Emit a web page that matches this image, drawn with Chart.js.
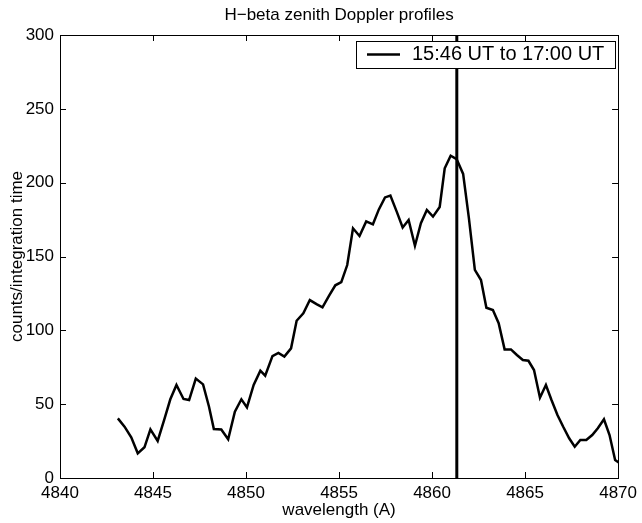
<!DOCTYPE html>
<html>
<head>
<meta charset="utf-8">
<script src="https://cdn.jsdelivr.net/npm/chart.js@4/dist/chart.umd.min.js"></script>
<style>
  html, body { margin: 0; padding: 0; background: #fff; }
  #wrap { width: 642px; height: 523px; }
</style>
</head>
<body>
<div id="wrap"><canvas id="myChart" width="642" height="523"></canvas></div>
<script>
// data
const wavelengths = [
  4843.11, 4843.47, 4843.83, 4844.18, 4844.54, 4844.86, 4845.25, 4845.60, 4845.93, 4846.26,
  4846.64, 4846.94, 4847.30, 4847.69, 4848.01, 4848.27, 4848.67, 4849.04, 4849.40, 4849.75,
  4850.05, 4850.41, 4850.77, 4851.03, 4851.42, 4851.74, 4852.06, 4852.42, 4852.72, 4853.08,
  4853.43, 4853.79, 4854.11, 4854.45, 4854.80, 4855.12, 4855.44, 4855.75, 4856.10, 4856.46,
  4856.82, 4857.14, 4857.47, 4857.76, 4858.10, 4858.42, 4858.74, 4859.08, 4859.40, 4859.72,
  4860.05, 4860.41, 4860.68, 4861.00, 4861.32, 4861.67, 4861.98, 4862.30, 4862.63, 4862.92,
  4863.27, 4863.58, 4863.90, 4864.24, 4864.56, 4864.88, 4865.18, 4865.48, 4865.80, 4866.12,
  4866.42, 4866.74, 4867.05, 4867.37, 4867.67, 4867.97, 4868.29, 4868.61, 4868.91, 4869.24,
  4869.54, 4869.84, 4870.16
];
const counts = [
  40.4, 34.8, 27.5, 16.7, 20.8, 32.9, 25.1, 39.3, 53.3, 63.0,
  53.5, 52.8, 67.3, 63.4, 48.3, 33.2, 32.9, 26.2, 44.9, 53.3,
  47.8, 63.0, 72.7, 69.3, 82.6, 84.7, 82.2, 87.8, 106.5, 111.5,
  120.5, 117.8, 115.6, 123.2, 130.5, 132.7, 144.2, 169.1, 163.9, 173.8,
  171.8, 181.9, 190.0, 191.2, 180.4, 169.7, 174.7, 157.3, 172.5, 181.5,
  177.0, 183.5, 209.7, 218.3, 216.0, 205.9, 176.0, 140.9, 134.1, 115.3,
  113.8, 104.8, 87.1, 87.1, 83.3, 79.9, 79.4, 73.1, 54.4, 63.0,
  52.8, 42.7, 34.7, 26.9, 21.2, 25.7, 25.7, 29.1, 33.7, 39.8,
  29.1, 12.2, 9.5
];
const hBeta = 4861.33;
const xTicks = [4840, 4845, 4850, 4855, 4860, 4865, 4870];
const yTicks = [0, 50, 100, 150, 200, 250, 300];
const seriesLabel = '15:46 UT to 17:00 UT';
const chartTitle = 'H\u2212beta zenith Doppler profiles';

const FONT = "'Liberation Sans', Arial, Helvetica, sans-serif";

// frame, inside tick marks, title and legend (MATLAB look)
const matlabDecor = {
  id: 'matlabDecor',
  afterDatasetsDraw(chart) {
    const ctx = chart.ctx;
    const a = chart.chartArea;
    const xs = chart.scales.x, ys = chart.scales.y;
    ctx.save();
    ctx.strokeStyle = '#000';
    ctx.lineWidth = 1;
    ctx.strokeRect(Math.round(a.left) + 0.5, Math.round(a.top) + 0.5,
      Math.round(a.right - a.left), Math.round(a.bottom - a.top));
    const tl = 6;
    ctx.beginPath();
    xTicks.forEach(v => {
      const px = Math.round(xs.getPixelForValue(v)) + 0.5;
      ctx.moveTo(px, a.bottom); ctx.lineTo(px, a.bottom - tl);
      ctx.moveTo(px, a.top); ctx.lineTo(px, a.top + tl);
    });
    yTicks.forEach(v => {
      const py = Math.round(ys.getPixelForValue(v)) + 0.5;
      ctx.moveTo(a.left, py); ctx.lineTo(a.left + tl, py);
      ctx.moveTo(a.right, py); ctx.lineTo(a.right - tl, py);
    });
    ctx.stroke();

    // legend box
    const lx = 356.5, ly = 41.5, lw = 259, lh = 27;
    ctx.fillStyle = '#fff';
    ctx.fillRect(lx, ly, lw, lh);
    ctx.strokeRect(lx, ly, lw, lh);
    ctx.lineWidth = 2.5;
    ctx.beginPath();
    ctx.moveTo(367, 54.5); ctx.lineTo(400, 54.5);
    ctx.stroke();
    ctx.fillStyle = '#000';
    ctx.font = '20px ' + FONT;
    ctx.textAlign = 'left';
    ctx.textBaseline = 'middle';
    ctx.fillText(chart.data.datasets[0].label, 412, 54.5);

    // title
    ctx.font = '17px ' + FONT;
    ctx.textAlign = 'center';
    ctx.textBaseline = 'middle';
    ctx.fillText(chartTitle, (a.left + a.right) / 2, 15);
    ctx.restore();
  }
};

document.addEventListener('DOMContentLoaded', function () {
  const ctx = document.getElementById('myChart').getContext('2d');
  const points = wavelengths.map((w, i) => ({ x: w, y: counts[i] }));

  new Chart(ctx, {
    type: 'line',
    data: {
      datasets: [
        {
          label: seriesLabel,
          data: points,
          borderColor: '#000',
          borderWidth: 2.5,
          pointRadius: 0,
          tension: 0,
          fill: false,
          clip: 0
        },
        {
          label: 'H-beta',
          data: [{ x: hBeta, y: 0 }, { x: hBeta, y: 300 }],
          borderColor: '#000',
          borderWidth: 3,
          pointRadius: 0,
          fill: false,
          clip: 0
        }
      ]
    },
    options: {
      responsive: false,
      animation: false,
      layout: { padding: { top: 35, right: 20, left: 0, bottom: 0 } },
      plugins: {
        legend: { display: false },
        title: { display: false },
        tooltip: { enabled: false }
      },
      scales: {
        x: {
          type: 'linear',
          min: 4840,
          max: 4870,
          afterBuildTicks: s => { s.ticks = xTicks.map(v => ({ value: v })); },
          afterFit: s => { s.height = 45; },
          grid: { display: false, drawTicks: false },
          border: { display: false },
          ticks: {
            color: '#000', font: { family: FONT, size: 17 }, padding: 5, maxRotation: 0, autoSkip: false,
            callback: v => String(v)
          },
          title: { display: true, text: 'wavelength (A)', color: '#000', font: { family: FONT, size: 17 }, padding: { top: 0, bottom: 2 } }
        },
        y: {
          min: 0,
          max: 300,
          afterBuildTicks: s => { s.ticks = yTicks.map(v => ({ value: v })); },
          afterFit: s => { s.width = 60; },
          grid: { display: false, drawTicks: false },
          border: { display: false },
          ticks: { color: '#000', font: { family: FONT, size: 17 }, padding: 6, callback: v => String(v) },
          title: { display: true, text: 'counts/integration time', color: '#000', font: { family: FONT, size: 17 }, padding: { top: 7, bottom: 0 } }
        }
      }
    },
    plugins: [matlabDecor]
  });
});
</script>
</body>
</html>
